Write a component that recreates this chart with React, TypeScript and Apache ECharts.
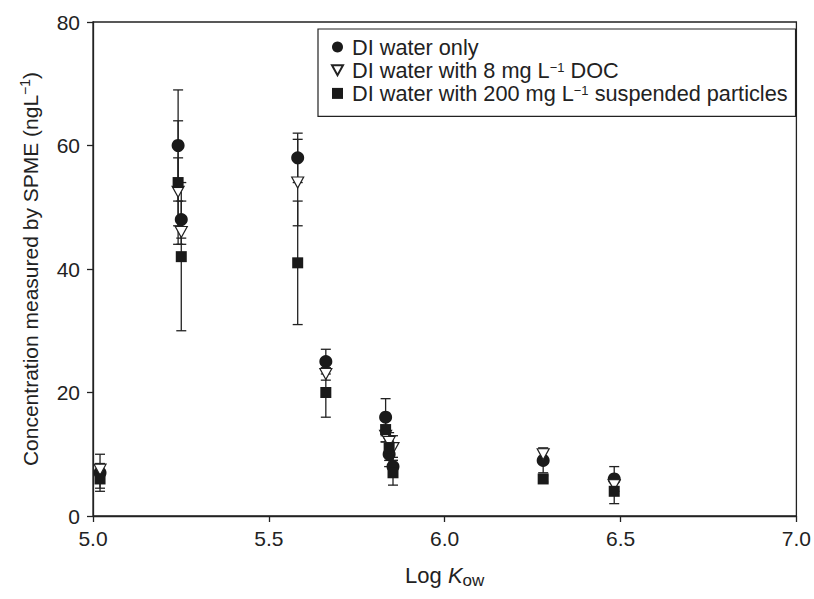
import React, { useEffect, useRef } from "react";
import * as echarts from "echarts";

const logKow = [5.02, 5.242, 5.251, 5.582, 5.662, 5.832, 5.842, 5.853, 6.28, 6.482];
const diWater = [7, 60, 48, 58, 25, 16, 10, 8, 9, 6];
const diWaterErr = [3, 9, 3, 4, 2, 3, 2, 1.5, 2, 2];
const docWater = [7.5, 52.5, 46, 54, 23, 13, 12, 11, 10, 5];
const docWaterErr = [1, 5.5, 2, 7, 1, 1, 1.5, 2, 1, 1];
const particleWater = [6, 54, 42, 41, 20, 14, 11, 7, 6, 4];
const particleWaterErr = [1.5, 10, 12, 10, 4, 2, 2, 2, 0.5, 2];

const seriesNames = [
  "DI water only",
  "DI water with 8 mg L−1 DOC",
  "DI water with 200 mg L−1 suspended particles",
];
const legendRich: Record<string, string> = {
  "DI water only": "{p|DI water only}",
  "DI water with 8 mg L−1 DOC": "{p|DI water with 8 mg L}{sup|−1}{a| DOC}",
  "DI water with 200 mg L−1 suspended particles":
    "{p|DI water with 200 mg L}{sup|−1}{a| suspended particles}",
};

const FONT = "'Liberation Sans', Arial, Helvetica, sans-serif";
const INK = "#222";
const downTriangle = "path://M0,0L10,0L5,9Z";

function errorSeries(name: string, values: number[], errs: number[]) {
  return {
    type: "custom",
    name: name + " (error)",
    silent: true,
    z: 1,
    encode: { x: 0, y: [1, 2] },
    data: logKow.map((x, i) => [x, values[i] - errs[i], values[i] + errs[i]]),
    renderItem: (_params: any, api: any) => {
      const x = api.value(0);
      const lo = api.coord([x, api.value(1)]);
      const hi = api.coord([x, api.value(2)]);
      const hw = 5;
      const style = { stroke: INK, lineWidth: 1.3 };
      return {
        type: "group",
        children: [
          { type: "line", shape: { x1: lo[0], y1: lo[1], x2: hi[0], y2: hi[1] }, style },
          { type: "line", shape: { x1: lo[0] - hw, y1: lo[1], x2: lo[0] + hw, y2: lo[1] }, style },
          { type: "line", shape: { x1: hi[0] - hw, y1: hi[1], x2: hi[0] + hw, y2: hi[1] }, style },
        ],
      };
    },
  };
}

export default function App() {
  const ref = useRef<HTMLDivElement>(null);
  useEffect(() => {
    if (!ref.current) return;
    const chart = echarts.init(ref.current, undefined, { renderer: "svg" });
    const axisLine = { show: true, lineStyle: { color: INK, width: 1.3 } };
    chart.setOption({
      animation: false,
      backgroundColor: "#fff",
      textStyle: { fontFamily: FONT, color: INK },
      grid: {
        left: 93,
        right: 15,
        top: 22,
        bottom: 83,
        show: true,
        borderColor: INK,
        borderWidth: 1.3,
        backgroundColor: "transparent",
      },
      xAxis: {
        type: "value",
        min: 5,
        max: 7,
        interval: 0.5,
        axisLine,
        axisTick: { show: true, inside: false, length: 6, lineStyle: { color: INK, width: 1.3 } },
        splitLine: { show: false },
        axisLabel: {
          margin: 12,
          fontSize: 21,
          color: INK,
          fontFamily: FONT,
          formatter: (v: number) => v.toFixed(1),
        },
        name: "{a|Log }{i|K}{sub|ow}",
        nameLocation: "middle",
        nameGap: 46,
        nameTextStyle: {
          rich: {
            a: { fontSize: 22, fontFamily: FONT, color: INK },
            i: { fontSize: 22, fontFamily: FONT, color: INK, fontStyle: "italic" },
            sub: { fontSize: 17, fontFamily: FONT, color: INK, padding: [10, 0, 0, 0] },
          },
        },
      },
      yAxis: {
        type: "value",
        min: 0,
        max: 80,
        interval: 20,
        axisLine,
        axisTick: { show: true, inside: false, length: 6, lineStyle: { color: INK, width: 1.3 } },
        splitLine: { show: false },
        axisLabel: { margin: 13, fontSize: 21, color: INK, fontFamily: FONT },
        name: "{a|Concentration measured by SPME (ngL}{sup|−1}{a|)}",
        nameLocation: "middle",
        nameGap: 51,
        nameTextStyle: {
          rich: {
            a: { fontSize: 21, fontFamily: FONT, color: INK },
            sup: { fontSize: 14, fontFamily: FONT, color: INK, padding: [0, 0, 10, 0] },
          },
        },
      },
      legend: {
        data: [
          { name: seriesNames[0], icon: "circle" },
          { name: seriesNames[1], icon: downTriangle },
          { name: seriesNames[2], icon: "rect" },
        ],
        orient: "vertical",
        left: 318,
        top: 29,
        borderColor: INK,
        borderWidth: 1.2,
        padding: [7, 8, 12, 13],
        itemWidth: 11,
        itemHeight: 11,
        itemGap: 1.2,
        formatter: (name: string) => legendRich[name] || name,
        textStyle: {
          rich: {
            p: { fontSize: 21.7, fontFamily: FONT, color: INK, padding: [0, 0, 0, 4], lineHeight: 23 },
            a: { fontSize: 21.7, fontFamily: FONT, color: INK, lineHeight: 23 },
            sup: { fontSize: 13, fontFamily: FONT, color: INK, padding: [0, 0, 6, 0] },
          },
        },
      },
      series: [
        errorSeries(seriesNames[0], diWater, diWaterErr),
        errorSeries(seriesNames[1], docWater, docWaterErr),
        errorSeries(seriesNames[2], particleWater, particleWaterErr),
        {
          type: "scatter",
          name: seriesNames[0],
          z: 3,
          symbol: "circle",
          symbolSize: 13,
          itemStyle: { color: "#1a1a1a", opacity: 1 },
          data: logKow.map((x, i) => [x, diWater[i]]),
        },
        {
          type: "scatter",
          name: seriesNames[1],
          z: 4,
          symbol: downTriangle,
          symbolSize: [12, 11],
          itemStyle: { color: "#fff", borderColor: INK, borderWidth: 1.2, opacity: 1 },
          data: logKow.map((x, i) => [x, docWater[i]]),
        },
        {
          type: "scatter",
          name: seriesNames[2],
          z: 5,
          symbol: "rect",
          symbolSize: 11,
          itemStyle: { color: "#1a1a1a", opacity: 1 },
          data: logKow.map((x, i) => [x, particleWater[i]]),
        },
      ],
    });
    return () => chart.dispose();
  }, []);
  return (
    <div
      ref={ref}
      style={{ position: "fixed", left: 0, top: 0, width: 814, height: 599, background: "#fff" }}
    />
  );
}
